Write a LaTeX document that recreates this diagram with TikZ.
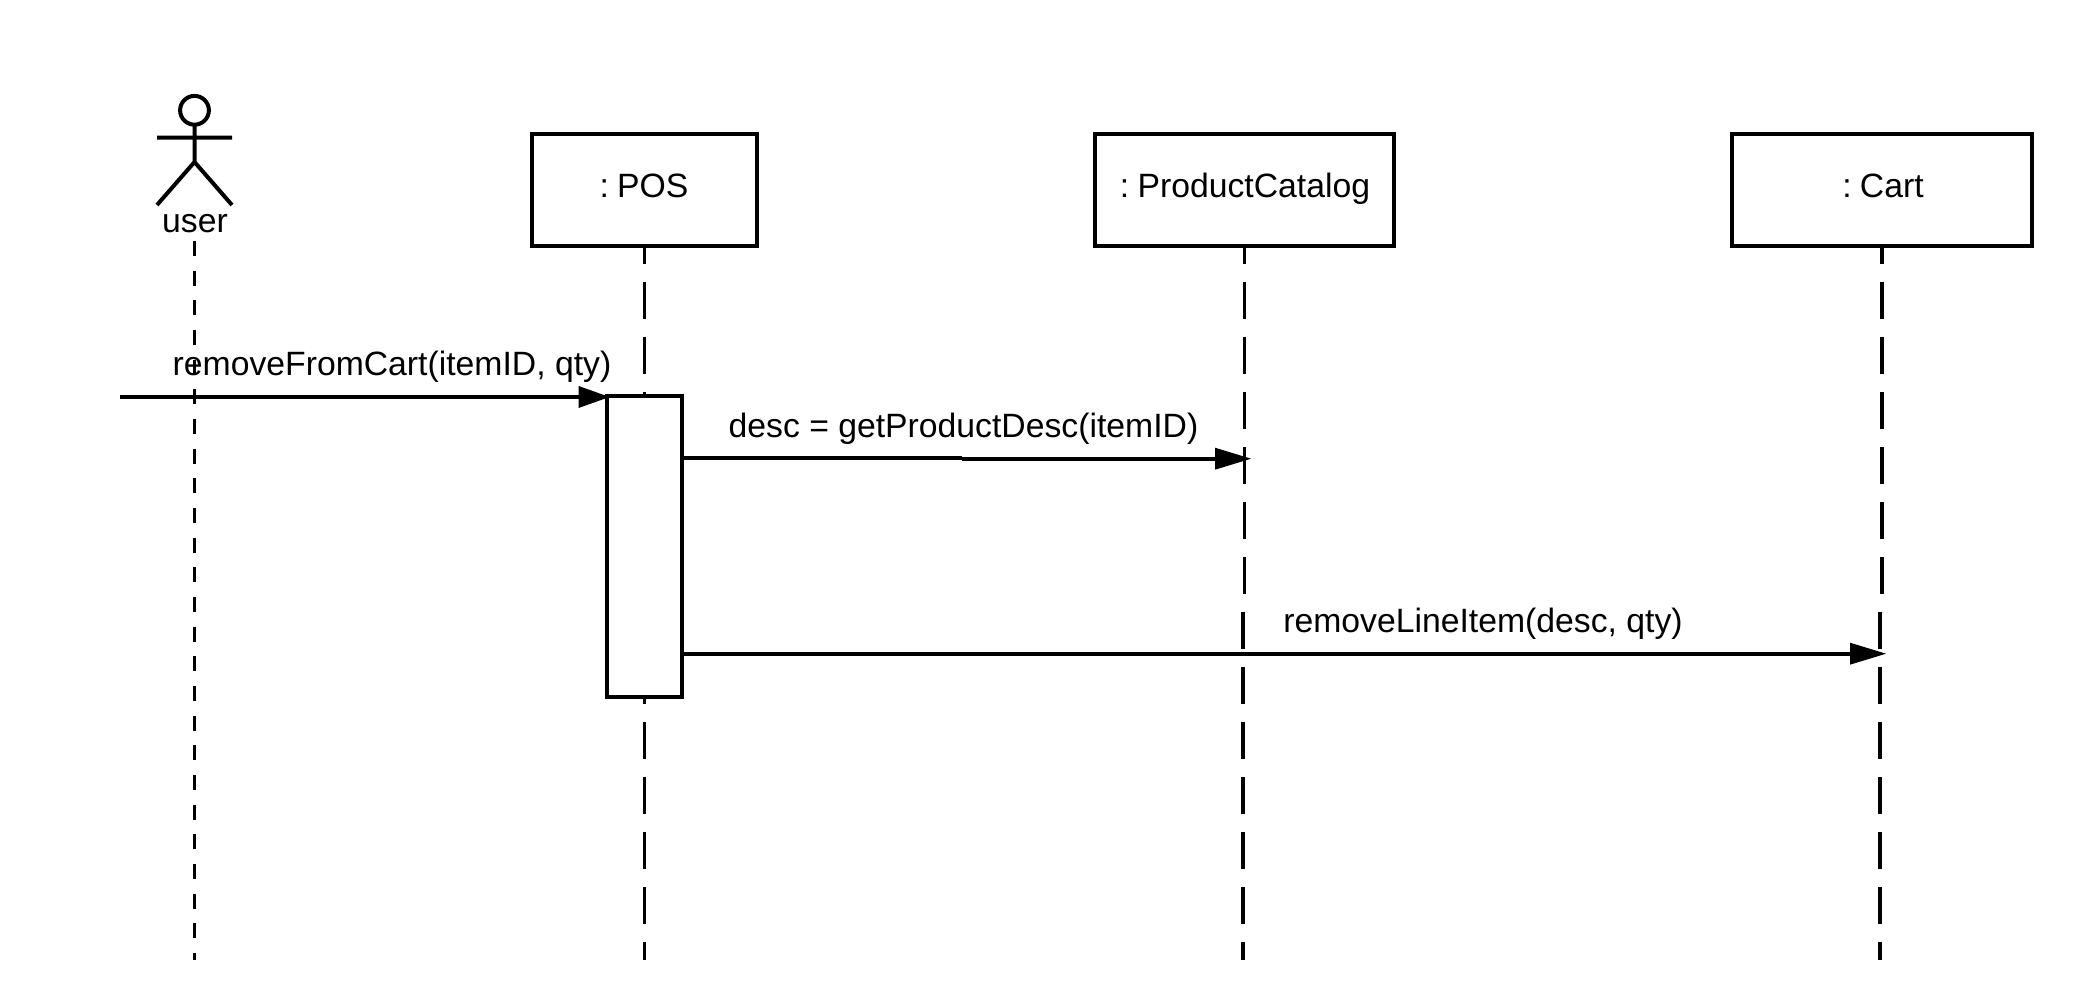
\documentclass[tikz,border=0pt]{standalone}
\usepackage{fontspec}
\setmainfont{Liberation Sans}
\begin{document}
\begin{tikzpicture}[x=0.75pt,y=-0.75pt,
  objbox/.style={draw=black,fill=white,line width=3pt,outer sep=0pt,inner sep=0pt},
  lbl/.style={font=\fontsize{25.3pt}{29pt}\selectfont,inner sep=0pt,anchor=base},
  life/.style={line width=2.1pt,dash pattern=on 27.6pt off 13.65pt},
  lifebold/.style={life,line width=3pt},
  msg/.style={line width=2.9pt},
  head/.style={fill=black},
  figure/.style={line width=3pt}]
\useasboundingbox (0,0) rectangle (2089,1005);
\fill[white] (0,0) rectangle (2089,1005);
% lifelines
\coordinate (us) at (194.3,241);
\coordinate (ue) at (194.3,960);
\coordinate (ps) at (644.3,227);
\coordinate (pe) at (644.3,960);
\draw[line width=2.1pt,dash pattern=on 11.25pt off 11pt] (us) -- (ue);
\draw[life] (ps) -- (pe);
\draw[life] (1244.6,227) -- (1244.6,612);
\draw[lifebold] (1243,612) -- (1243,960);
\draw[lifebold] (1882,227) -- (1882,612);
\draw[lifebold] (1880,612) -- (1880,960);
% boxes
\node[objbox,minimum width=168.4pt,minimum height=84pt] (pos) at (644.3,190.5) {};
\node[objbox,minimum width=224.5pt,minimum height=84pt] (cat) at (1244.5,190.5) {};
\node[objbox,minimum width=224.8pt,minimum height=84pt] (cart) at (1882.1,190.5) {};
\node[lbl] at (644,197.2) {:\kern-0.8pt\ POS};
\node[lbl] at (1245,197.2) {:\kern-0.8pt\ ProductCatalog};
\node[lbl] at (1883,197.2) {:\kern-0.8pt\ Cart};
% actor
\draw[figure] (194.5,110.3) circle (10.8pt);
\node[lbl] (usr) at (195,233) {user};
\draw[figure] (194.5,125) -- (194.5,162) (157,137.7) -- (232,137.7) (157,205) -- (194.5,162) -- (232,205);
% activation
\node[objbox,minimum width=56pt,minimum height=225.6pt] (act) at (644.75,546.5) {};
% messages
\coordinate (m1s) at (120,397);
\draw[msg] (m1s) -- (608,397);
\fill[head] (578.6,386) -- (609.5,397) -- (578.6,408) -- cycle;
\node[lbl] at (392,375.6) {removeFromCart(itemID, qty)};
\draw[msg] (act.east |- 0,457.7) -- (962,457.7);
\draw[msg] (962,458.7) -- (1225,458.7);
\fill[head] (1215,447.7) -- (1251,458.7) -- (1215,469.7) -- cycle;
\node[lbl] at (963.5,437.5) {desc = getProductDesc(itemID)};
\draw[msg] (act.east |- 0,653.7) -- (1860,653.7);
\fill[head] (1850,642.7) -- (1886,653.7) -- (1850,664.7) -- cycle;
\node[lbl] at (1483,632) {removeLineItem(desc, qty)};
\end{tikzpicture}
\end{document}
